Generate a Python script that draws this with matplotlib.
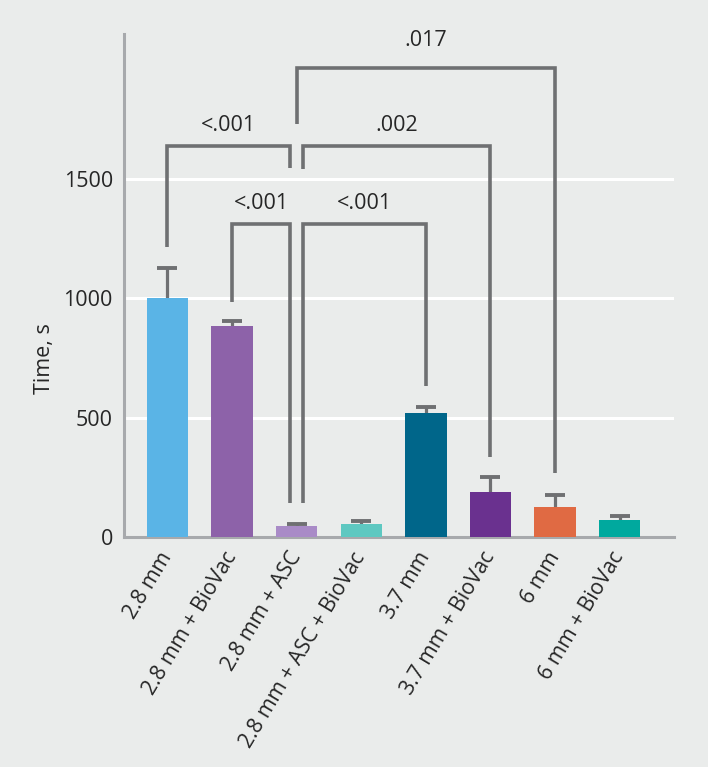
import matplotlib
matplotlib.use("Agg")
import matplotlib.pyplot as plt

categories = ["2.8 mm", "2.8 mm + BioVac", "2.8 mm + ASC", "2.8 mm + ASC + BioVac",
              "3.7 mm", "3.7 mm + BioVac", "6 mm", "6 mm + BioVac"]
means = [1000, 883, 48, 53, 520, 190, 126, 70]
err_upper = [125, 22, 7, 15, 25, 61, 52, 20]
colors = ["#5ab4e6", "#8d62a9", "#a98bc7", "#5ec8c1", "#00668a", "#6a318f", "#e06a43", "#00a99e"]
yticks = [0, 500, 1000, 1500]

# significance brackets: left x, right x, top, left-leg bottom, right-leg bottom, label, label y
br_x0 = [2.0, 0.0, 2.1, 1.0, 2.1]
br_x1 = [6.0, 1.9, 5.0, 1.9, 4.0]
br_top = [1966, 1638, 1638, 1311, 1311]
br_lbot = [1730, 1216, 1542, 983, 141]
br_rbot = [268, 1547, 335, 141, 633]
br_label = [".017", "<.001", ".002", "<.001", "<.001"]
br_label_y = [2078, 1722, 1722, 1395, 1395]

plt.rcParams["font.family"] = ["Open Sans", "DejaVu Sans"]
bg = "#eaeceb"
gray = "#6f7072"
spine_gray = "#a7a9ac"
txt = "#262626"

fig = plt.figure(figsize=(7.08, 7.67), dpi=100, facecolor=bg)
ax = fig.add_axes([124 / 708, 1 - 537 / 767, 550 / 708, (537 - 34) / 767])
ax.set_facecolor(bg)

x = list(range(len(categories)))
ax.bar(x, means, width=0.64, color=colors, zorder=3)
eb = ax.errorbar(x, means, yerr=[[0] * len(means), err_upper], fmt="none",
                 ecolor=gray, elinewidth=2.3, capsize=7.5, capthick=2.8, zorder=2)
# keep only the upper caps
for cl in eb[1]:
    yd = list(cl.get_ydata())
    if all(abs(a - b) < 1e-9 for a, b in zip(yd, means)):
        cl.set_visible(False)

for x0, x1, top, lb, rb, lab, ly in zip(br_x0, br_x1, br_top, br_lbot, br_rbot, br_label, br_label_y):
    ax.plot([x0, x0, x1, x1], [lb, top, top, rb], color=gray, lw=2.6,
            solid_joinstyle="miter", solid_capstyle="butt", zorder=4, clip_on=False)
    ax.text((x0 + x1) / 2, ly, lab, ha="center", va="center", fontsize=15.5, color=txt)

ax.set_xlim(-0.67, 7.84)
ax.set_ylim(0, 2107)
ax.set_yticks(yticks)
ax.set_yticklabels([str(t) for t in yticks])
ax.yaxis.grid(True, color="white", lw=2.2, zorder=0)
ax.set_axisbelow(True)
ax.tick_params(axis="y", length=0, pad=8, labelsize=15.5, labelcolor=txt)
ax.tick_params(axis="x", length=0, pad=12, labelsize=15.2, labelcolor=txt)
ax.set_xticks(x)
ax.set_xticklabels(categories, rotation=59, ha="right", va="center", rotation_mode="anchor")

for s in ["top", "right"]:
    ax.spines[s].set_visible(False)
for s in ["left", "bottom"]:
    ax.spines[s].set_color(spine_gray)
    ax.spines[s].set_linewidth(2.2)

ax.set_ylabel("Time, s", fontsize=15.5, color=txt)
ax.yaxis.set_label_coords((55 - 124) / 550, (537 - 359) / 503)

fig.savefig("out.png", dpi=100, facecolor=bg)
